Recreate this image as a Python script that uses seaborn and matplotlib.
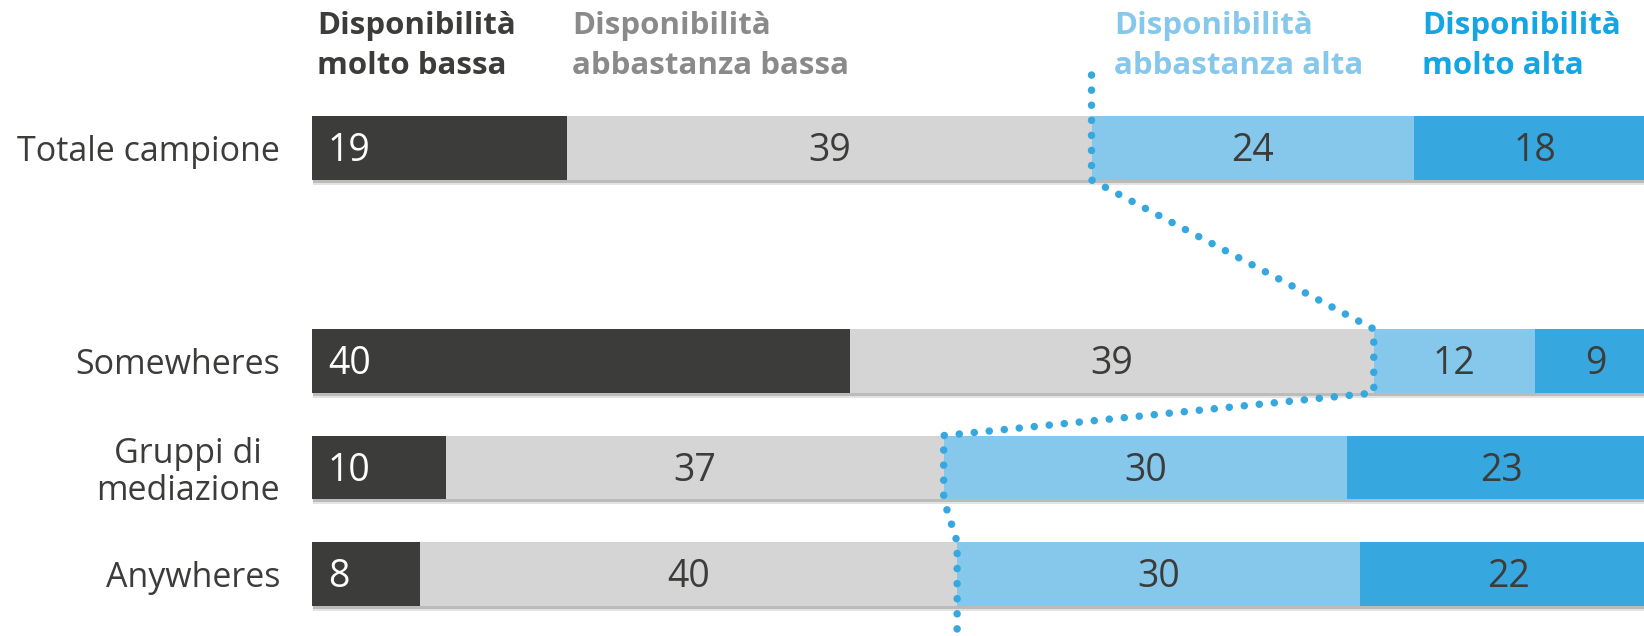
import pandas as pd
import matplotlib
matplotlib.use("Agg")
import matplotlib.pyplot as plt
import matplotlib.patheffects as pe
import seaborn as sns

# data (percent)
groups = ["Totale campione", "Somewheres", "Gruppi di\nmediazione", "Anywheres"]
molto_bassa = [19, 40, 10, 8]
abbastanza_bassa = [39, 39, 37, 40]
abbastanza_alta = [24, 12, 30, 30]
molto_alta = [18, 9, 23, 22]
series_names = ["Disponibilità\nmolto bassa", "Disponibilità\nabbastanza bassa",
                "Disponibilità\nabbastanza alta", "Disponibilità\nmolto alta"]

bar_colors = ["#3c3c3b", "#d5d5d5", "#86c8ec", "#36a8df"]
header_colors = ["#3c3c3b", "#8a8a8a", "#86c8ec", "#14a6e2"]
dark = "#3c3c3b"
line_blue = "#36a8df"

sns.set_theme(style="white")
plt.rcParams["font.family"] = ["Open Sans", "DejaVu Sans"]

W, H = 1644, 636
series = [molto_bassa, abbastanza_bassa, abbastanza_alta, molto_alta]
df = pd.DataFrame({"gruppo": groups})
running = [0] * len(groups)
for i, s in enumerate(series):
    running = [a + b for a, b in zip(running, s)]
    df[f"cum{i}"] = running

# blank slot between the total and the three groups
order = [groups[0], " "] + groups[1:]
pos = {g: order.index(g) for g in groups}
bar_h = 0.6

fig = plt.figure(figsize=(W / 100, H / 100), dpi=100)
px_per_unit = 13.44
ax = fig.add_axes([312 / W, 0, (W - 312) / W, 1])

# stacked bars: draw cumulative layers from the longest to the shortest
for i in reversed(range(len(series))):
    n_before = len(ax.patches)
    sns.barplot(data=df, y="gruppo", x=f"cum{i}", order=order, orient="h",
                color=bar_colors[i], saturation=1, width=bar_h, errorbar=None,
                linewidth=0, ax=ax)
    if i == len(series) - 1:
        # soft drop shadow under each full bar
        for p in ax.patches[n_before:]:
            p.set_path_effects([pe.SimplePatchShadow(offset=(1, -3.5), shadow_rgbFace="#909090", alpha=0.25),
                                pe.SimplePatchShadow(offset=(0.5, -2), shadow_rgbFace="#808080", alpha=0.4),
                                pe.Normal()])

# value labels
for r, g in enumerate(groups):
    y = pos[g] + 0.125
    start = 0
    for i, s in enumerate(series):
        v = s[r]
        if i == 0:
            ax.text(start + 16 / px_per_unit, y, str(v), ha="left", va="baseline",
                    fontsize=27, color="white")
        else:
            ax.text(start + v / 2, y, str(v), ha="center", va="baseline",
                    fontsize=27, color=dark)
        start += v

# dotted connector along the low / high boundary
bound = [a + b for a, b in zip(molto_bassa, abbastanza_bassa)]
xs, ys = [bound[0]], [-0.685]
for r, g in enumerate(groups):
    xs += [bound[r], bound[r]]
    ys += [pos[g] - bar_h / 2, pos[g] + bar_h / 2]
xs.append(bound[-1])
ys.append(4.7)
ax.plot(xs, ys, color=line_blue, lw=5.4, linestyle=(0, (0.01, 2.0)),
        dash_capstyle="round", zorder=5)

ax.set_xlim(0, (W - 312) / px_per_unit)
ax.set_ylim((H - 148) / 106.5, -148 / 106.5)
ax.set_xlabel("")
ax.set_ylabel("")
ax.set_xticks([])
sns.despine(ax=ax, left=True, bottom=True)
ax.tick_params(axis="y", length=0, pad=23, labelsize=24.5, labelcolor=dark)
for lab in ax.get_yticklabels():
    lab.set_multialignment("center")
    lab.set_linespacing(1.1)

# column headers
header_x = [317, 572, 1114, 1422]
for name, c, x in zip(series_names, header_colors, header_x):
    fig.text(x / W, 1 - 11 / H, name, ha="left", va="top", fontsize=22.5,
             fontweight="bold", color=c, linespacing=1.42)

fig.savefig("out.png", dpi=100)
